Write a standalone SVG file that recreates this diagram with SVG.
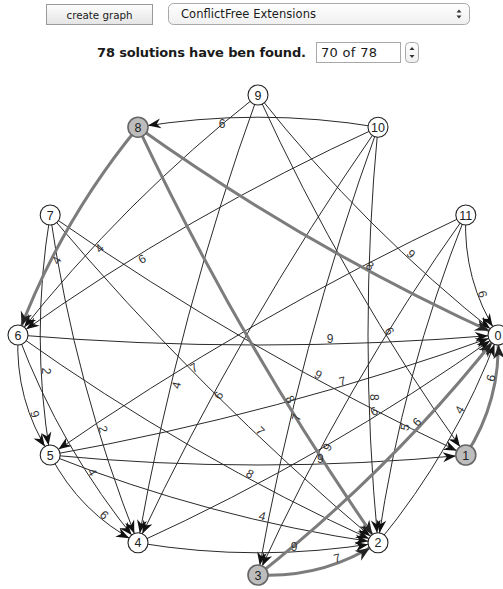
<svg xmlns="http://www.w3.org/2000/svg" width="503" height="589" viewBox="0 0 503 589">
<style>
.e{fill:none;stroke:#2a2a2a;stroke-width:1;marker-end:url(#arr)}
.t{fill:none;stroke:#7c7c7c;stroke-width:3;marker-end:url(#arrT)}
.l{font-family:"Liberation Sans",Arial,sans-serif;font-size:12px;fill:#333;text-anchor:middle}
.n circle{fill:#fff;stroke:#222;stroke-width:1.1}
.s circle{fill:#bdbdbd;stroke:#666;stroke-width:1.6}
.n text,.s text{font-family:"Liberation Sans",Arial,sans-serif;font-size:12.5px;fill:#222;text-anchor:middle}
.ui{font-family:"DejaVu Sans",Verdana,sans-serif;fill:#1a1a1a}
</style>
<defs>
<linearGradient id="gb" x1="0" y1="0" x2="0" y2="1"><stop offset="0" stop-color="#fdfdfd"/><stop offset="1" stop-color="#e4e4e4"/></linearGradient>
<linearGradient id="gd" x1="0" y1="0" x2="0" y2="1"><stop offset="0" stop-color="#ffffff"/><stop offset="1" stop-color="#efefef"/></linearGradient>
<marker id="arr" viewBox="-30 -10 30 20" markerWidth="30" markerHeight="20" refX="0" refY="0" orient="auto" markerUnits="userSpaceOnUse" overflow="visible"><path d="M-10,0 L-23,-5 L-19,0 L-23,5 Z" fill="#111"/></marker>
<marker id="arrT" viewBox="-30 -10 30 20" markerWidth="30" markerHeight="20" refX="0" refY="0" orient="auto" markerUnits="userSpaceOnUse" overflow="visible"><path d="M-10,0 L-24,-6 L-19.5,0 L-24,6 Z" fill="#222"/></marker>
</defs>
<rect width="503" height="589" fill="#fff"/>
<g id="ui">
<rect x="46.5" y="4.5" width="106" height="20" fill="url(#gb)" stroke="#9a9a9a"/>
<text class="ui" x="99.5" y="18.5" font-size="10.3" text-anchor="middle" textLength="66">create graph</text>
<rect x="168.5" y="3.5" width="301" height="21" rx="5" fill="url(#gd)" stroke="#a8a8a8"/>
<text class="ui" x="181" y="18" font-size="11.5" textLength="135">ConflictFree Extensions</text>
<path d="M456.5,12.5 L459,9.5 L461.5,12.5 Z M456.5,15.5 L459,18.5 L461.5,15.5 Z" fill="#333"/>
<text class="ui" x="97" y="57" font-size="13" font-weight="bold" textLength="209">78 solutions have ben found.</text>
<rect x="316.5" y="42.5" width="84" height="20" fill="#fff" stroke="#a8a8a8"/>
<text class="ui" x="321" y="57" font-size="13" textLength="56">70 of 78</text>
<rect x="405.5" y="42.5" width="13" height="20" rx="4" fill="url(#gd)" stroke="#a8a8a8"/>
<path d="M409.5,50 L412,47 L414.5,50 Z M409.5,55 L412,58 L414.5,55 Z" fill="#333"/>
</g>
<g id="connectors">
<path class="e" d="M378,127.2 Q258,107.2 138,127.2"/>
<path class="e" d="M378,127.2 Q188,213.8 18,335"/>
<path class="e" d="M378,127.2 Q240.7,325 138,542.8"/>
<path class="e" d="M378,127.2 Q298.7,345.9 258,575"/>
<path class="e" d="M378,127.2 Q358,335 378,542.8"/>
<path class="e" d="M258,95 Q123.9,200.9 18,335"/>
<path class="e" d="M258,95 Q178.7,313.7 138,542.8"/>
<path class="e" d="M258,95 Q344.6,285 465.8,455"/>
<path class="e" d="M258,95 Q363.9,229.1 498,335"/>
<path class="e" d="M465.8,215 Q248,317.7 50.2,455"/>
<path class="e" d="M465.8,215 Q344.6,385 258,575"/>
<path class="e" d="M465.8,215 Q402.6,373.7 378,542.8"/>
<path class="e" d="M465.8,215 Q462.6,280.2 498,335"/>
<path class="e" d="M50.2,215 Q30.2,335 50.2,455"/>
<path class="e" d="M50.2,215 Q74.8,384.1 138,542.8"/>
<path class="e" d="M50.2,215 Q200,393 378,542.8"/>
<path class="e" d="M50.2,215 Q248,352.3 465.8,455"/>
<path class="e" d="M18,335 Q14.8,400.2 50.2,455"/>
<path class="e" d="M18,335 Q60.7,448.9 138,542.8"/>
<path class="e" d="M18,335 Q188,456.2 378,542.8"/>
<path class="e" d="M18,335 Q258,355 498,335"/>
<path class="e" d="M50.2,455 Q80,513 138,542.8"/>
<path class="e" d="M50.2,455 Q208.9,518.2 378,542.8"/>
<path class="e" d="M50.2,455 Q258,475 465.8,455"/>
<path class="e" d="M50.2,455 Q279.3,414.3 498,335"/>
<path class="e" d="M138,542.8 Q258,562.8 378,542.8"/>
<path class="e" d="M138,542.8 Q328,456.2 498,335"/>
<path class="e" d="M378,542.8 Q455.3,448.9 498,335"/>
<path class="t" d="M138,127.2 Q60.7,221.1 18,335"/>
<path class="t" d="M138,127.2 Q240.7,345 378,542.8"/>
<path class="t" d="M138,127.2 Q308,248.4 498,335"/>
<path class="t" d="M258,575 Q323.2,578.2 378,542.8"/>
<path class="t" d="M258,575 Q392.1,469.1 498,335"/>
<path class="t" d="M465.8,455 Q501.2,400.2 498,335"/>
<g id="connector-labels">
<text class="l" dy="4.3" transform="translate(222,123.2)">6</text>
<text class="l" dy="4.3" transform="translate(142,258.8) rotate(-30)">6</text>
<text class="l" dy="4.3" transform="translate(218.5,395.3) rotate(-60)">6</text>
<text class="l" dy="4.3" transform="translate(296.1,417.3) rotate(-75)">7</text>
<text class="l" dy="4.3" transform="translate(374,397.3) rotate(90)">8</text>
<text class="l" dy="4.3" transform="translate(99.2,248.2) rotate(-45)">4</text>
<text class="l" dy="4.3" transform="translate(176.1,385.1) rotate(-75)">4</text>
<text class="l" dy="4.3" transform="translate(389.6,331) rotate(60)">6</text>
<text class="l" dy="4.3" transform="translate(411.2,253.8) rotate(45)">9</text>
<text class="l" dy="4.3" transform="translate(56.5,260.3) rotate(-60)">4</text>
<text class="l" dy="4.3" transform="translate(290.5,399.3) rotate(60)">8</text>
<text class="l" dy="4.3" transform="translate(370,265.8) rotate(30)">8</text>
<text class="l" dy="4.3" transform="translate(193.7,367.5) rotate(-30)">7</text>
<text class="l" dy="4.3" transform="translate(327.2,447) rotate(-60)">9</text>
<text class="l" dy="4.3" transform="translate(404.8,427.1) rotate(-75)">5</text>
<text class="l" dy="4.3" transform="translate(482.8,294) rotate(75)">6</text>
<text class="l" dy="4.3" transform="translate(46.2,371) rotate(90)">2</text>
<text class="l" dy="4.3" transform="translate(103.4,429.1) rotate(75)">2</text>
<text class="l" dy="4.3" transform="translate(260.5,430.9) rotate(45)">7</text>
<text class="l" dy="4.3" transform="translate(318.3,374.5) rotate(30)">9</text>
<text class="l" dy="4.3" transform="translate(35,414) rotate(75)">9</text>
<text class="l" dy="4.3" transform="translate(92.5,472.1) rotate(60)">4</text>
<text class="l" dy="4.3" transform="translate(250,473.6) rotate(30)">8</text>
<text class="l" dy="4.3" transform="translate(330,339)">9</text>
<text class="l" dy="4.3" transform="translate(104.5,514.9) rotate(45)">6</text>
<text class="l" dy="4.3" transform="translate(262.3,516) rotate(15)">4</text>
<text class="l" dy="4.3" transform="translate(320.3,459)">9</text>
<text class="l" dy="4.3" transform="translate(342.3,380.9) rotate(-15)">7</text>
<text class="l" dy="4.3" transform="translate(294,546.8)">9</text>
<text class="l" dy="4.3" transform="translate(374,411.2) rotate(-30)">6</text>
<text class="l" dy="4.3" transform="translate(337,558) rotate(-15)">7</text>
<text class="l" dy="4.3" transform="translate(416.8,421.8) rotate(-45)">6</text>
<text class="l" dy="4.3" transform="translate(459.5,409.7) rotate(-60)">4</text>
<text class="l" dy="4.3" transform="translate(490.6,378) rotate(-75)">6</text>
</g>
</g>
<g id="node0" class="n"><circle cx="498" cy="335" r="10"/><text x="498" y="339.5">0</text></g>
<g id="node1" class="s"><circle cx="465.8" cy="455" r="10"/><text x="465.8" y="459.5">1</text></g>
<g id="node2" class="n"><circle cx="378" cy="542.8" r="10"/><text x="378" y="547.3">2</text></g>
<g id="node3" class="s"><circle cx="258" cy="575" r="10"/><text x="258" y="579.5">3</text></g>
<g id="node4" class="n"><circle cx="138" cy="542.8" r="10"/><text x="138" y="547.3">4</text></g>
<g id="node5" class="n"><circle cx="50.2" cy="455" r="10"/><text x="50.2" y="459.5">5</text></g>
<g id="node6" class="n"><circle cx="18" cy="335" r="10"/><text x="18" y="339.5">6</text></g>
<g id="node7" class="n"><circle cx="50.2" cy="215" r="10"/><text x="50.2" y="219.5">7</text></g>
<g id="node8" class="s"><circle cx="138" cy="127.2" r="10"/><text x="138" y="131.7">8</text></g>
<g id="node9" class="n"><circle cx="258" cy="95" r="10"/><text x="258" y="99.5">9</text></g>
<g id="node10" class="n"><circle cx="378" cy="127.2" r="10"/><text x="378" y="131.7">10</text></g>
<g id="node11" class="n"><circle cx="465.8" cy="215" r="10"/><text x="465.8" y="219.5">11</text></g>
</svg>
